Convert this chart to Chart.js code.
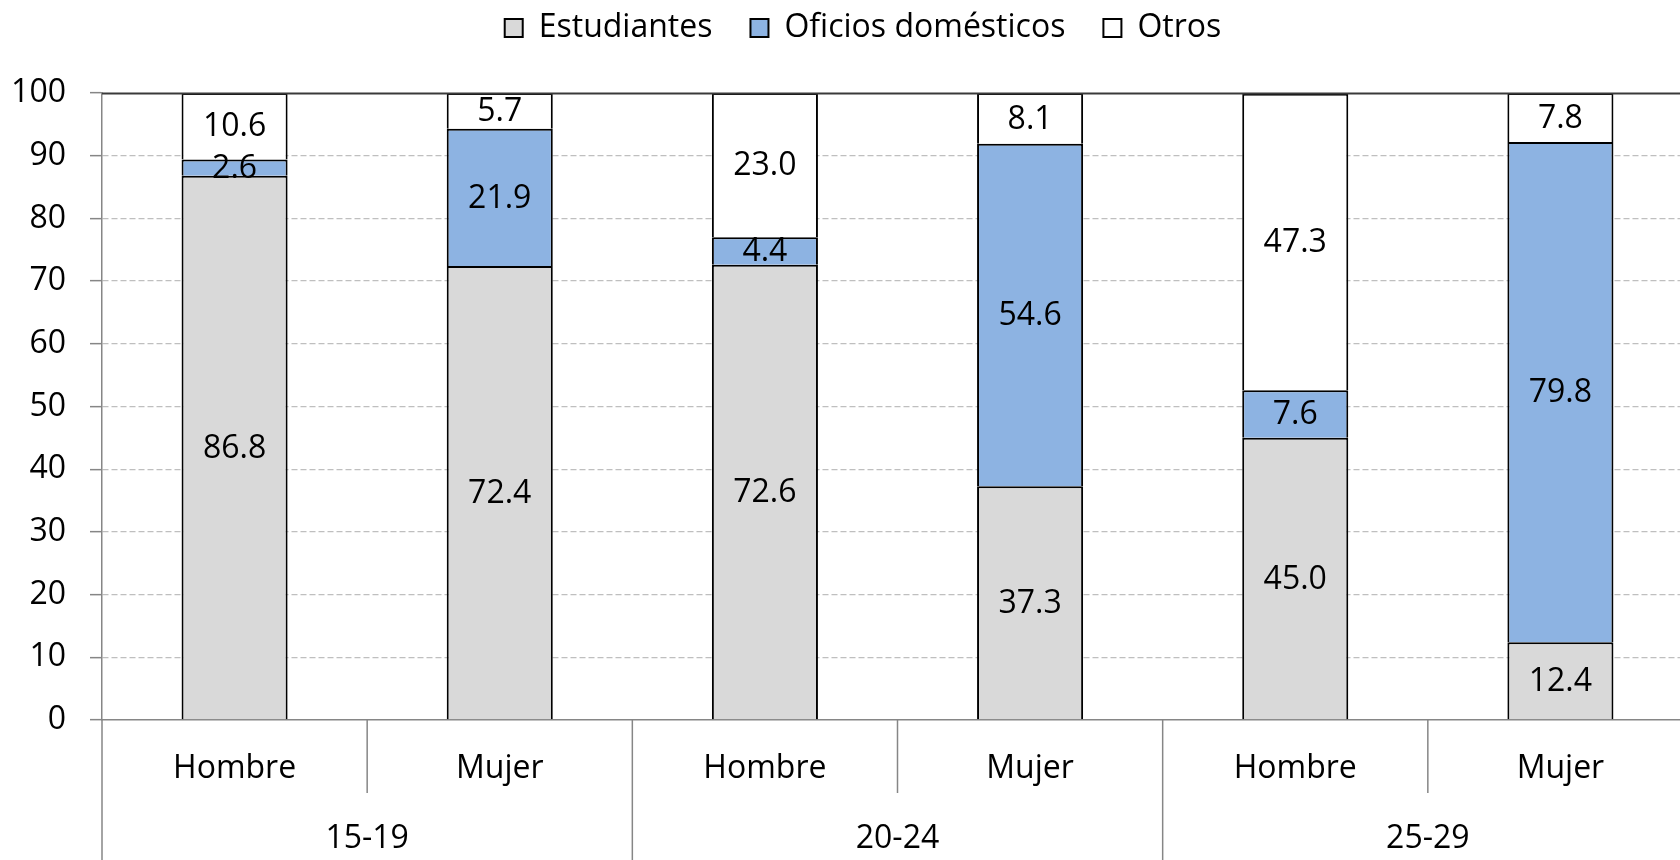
<!DOCTYPE html>
<html>
<head>
<meta charset="utf-8">
<script src="https://cdn.jsdelivr.net/npm/chart.js@4.4.1/dist/chart.umd.min.js"></script>
<style>
html, body { margin: 0; padding: 0; overflow: hidden; background: #ffffff; }
#wrap { position: absolute; left: 0; top: 0; width: 1760px; height: 860px; }
</style>
</head>
<body>
<div id="wrap"><canvas id="c"></canvas></div>
<script>
const categories = ['Hombre', 'Mujer', 'Hombre', 'Mujer', 'Hombre', 'Mujer'];
const groups = ['15-19', '20-24', '25-29'];
const estudiantes = [86.8, 72.4, 72.6, 37.3, 45.0, 12.4];
const oficios = [2.6, 21.9, 4.4, 54.6, 7.6, 79.8];
const otros = [10.6, 5.7, 23.0, 8.1, 47.3, 7.8];
const seriesNames = ['Estudiantes', 'Oficios domésticos', 'Otros'];
const yMin = 0, yMax = 100, yStep = 10;

const FONT = '"Open Sans", sans-serif';
const FS = 32;
const AXIS_GRAY = '#868686';

const legendSpacer = {
  id: 'legendSpacer',
  beforeUpdate(chart) {
    const lg = chart.legend;
    if (lg && !lg._spacerPatched) {
      const orig = lg.fit;
      lg.fit = function () { orig.call(this); this.height += 39; };
      lg._spacerPatched = true;
    }
  },
  afterLayout(chart) {
    const lg = chart.legend;
    if (lg) { lg.left += 33; lg.width = lg.right - lg.left; }
  }
};

const labelPlugin = {
  id: 'segLabels',
  afterDatasetsDraw(chart) {
    const ctx = chart.ctx;
    ctx.save();
    ctx.font = FS + 'px ' + FONT;
    ctx.fillStyle = '#000';
    ctx.textAlign = 'center';
    ctx.textBaseline = 'middle';
    chart.data.datasets.forEach((ds, di) => {
      const meta = chart.getDatasetMeta(di);
      meta.data.forEach((el, i) => {
        const p = el.getProps(['x', 'y', 'base'], true);
        ctx.fillText(ds.data[i].toFixed(1), p.x, (p.y + p.base) / 2 + 1);
      });
    });
    ctx.restore();
  }
};

const axisPlugin = {
  id: 'groupAxis',
  afterDraw(chart) {
    const ctx = chart.ctx;
    const xs = chart.scales.x, ys = chart.scales.y;
    const bottom = chart.chartArea.bottom;
    ctx.save();
    ctx.strokeStyle = '#3a3a3a';
    ctx.lineWidth = 2;
    const yt = Math.round(ys.getPixelForValue(yMax)) + 0.5;
    ctx.beginPath();
    ctx.moveTo(chart.chartArea.left, yt);
    ctx.lineTo(chart.chartArea.right, yt);
    ctx.stroke();
    ctx.strokeStyle = AXIS_GRAY;
    ctx.lineWidth = 1.5;
    for (let i = 0; i <= categories.length; i++) {
      const x = xs.getPixelForValue(i - 0.5);
      const long = (i % 2 === 0);
      ctx.beginPath();
      ctx.moveTo(x, bottom);
      ctx.lineTo(x, long ? chart.height : bottom + 73);
      ctx.stroke();
    }
    ctx.font = FS + 'px ' + FONT;
    ctx.fillStyle = '#000';
    ctx.textAlign = 'center';
    ctx.textBaseline = 'middle';
    groups.forEach((g, gi) => {
      const x = xs.getPixelForValue(gi * 2 + 0.5);
      ctx.fillText(g, x, bottom + 119);
    });
    ctx.restore();
  }
};

const common = { borderColor: '#000000', borderWidth: 2, barPercentage: 0.4, categoryPercentage: 1.0, borderSkipped: 'start' };

new Chart(document.getElementById('c'), {
  type: 'bar',
  data: {
    labels: categories,
    datasets: [
      Object.assign({ label: seriesNames[0], data: estudiantes, backgroundColor: '#D9D9D9' }, common),
      Object.assign({ label: seriesNames[1], data: oficios, backgroundColor: '#8DB3E2' }, common),
      Object.assign({ label: seriesNames[2], data: otros, backgroundColor: '#FFFFFF' }, common)
    ]
  },
  options: {
    responsive: true,
    maintainAspectRatio: false,
    animation: false,
    layout: { padding: { top: -26, right: 67, left: 0, bottom: 0 } },
    plugins: {
      legend: {
        display: true,
        position: 'top',
        labels: {
          font: { family: FONT, size: FS },
          color: '#000',
          boxWidth: 18,
          boxHeight: 18,
          padding: 38
        }
      },
      tooltip: { enabled: false }
    },
    scales: {
      x: {
        stacked: true,
        offset: true,
        afterFit(s) { s.height = 140; },
        grid: { display: false, drawOnChartArea: false, drawTicks: false },
        border: { display: true, color: AXIS_GRAY, width: 1.5 },
        ticks: { font: { family: FONT, size: FS }, color: '#000', padding: 30, maxRotation: 0, autoSkip: false }
      },
      y: {
        stacked: true,
        min: yMin,
        max: yMax,
        afterFit(s) { s.width = 102; },
        ticks: { stepSize: yStep, font: { family: FONT, size: FS }, color: '#000', padding: 24 },
        grid: {
          color: (c) => (c.tick && (c.tick.value === yMin || c.tick.value === yMax)) ? 'rgba(0,0,0,0)' : '#BFBFBF',
          lineWidth: 1.3,
          tickLength: 12,
          tickColor: AXIS_GRAY,
          tickWidth: 1.5,
          drawOnChartArea: true
        },
        border: { display: true, color: AXIS_GRAY, width: 1.5, dash: [6, 3] }
      }
    }
  },
  plugins: [legendSpacer, labelPlugin, axisPlugin]
});
</script>
</body>
</html>
